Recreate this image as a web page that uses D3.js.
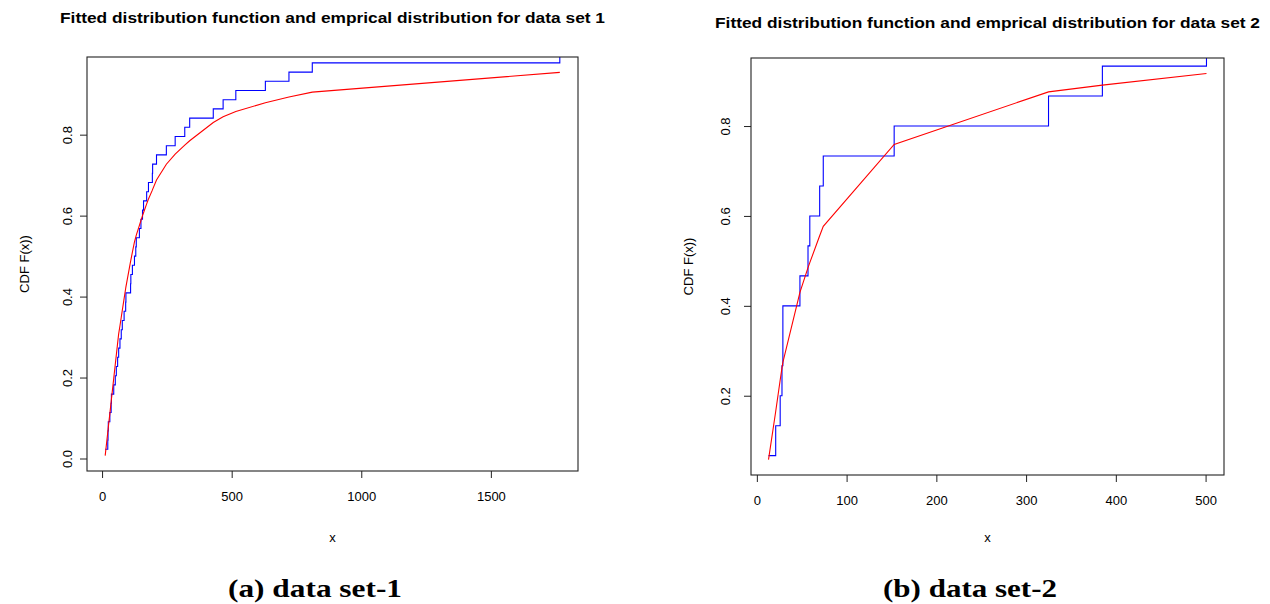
<!DOCTYPE html>
<html>
<head>
<meta charset="utf-8">
<script src="https://cdn.jsdelivr.net/npm/d3@7"></script>
<style>
	body { margin: 0; background: #fff; }
	text { font-family: "Liberation Sans", Arial, sans-serif; fill: #000; }
	.caption { font-family: "Liberation Serif", "DejaVu Serif", serif; font-weight: bold; }
</style>
</head>
<body>
<svg width="1270" height="604"></svg>
<script>

// data set 1: sorted sample (44 obs) and fitted cdf at each obs
let set1X = [12, 22, 23, 24, 30, 35, 36, 45, 51, 55, 60, 64, 69, 74, 78, 85, 91, 92, 110, 111,
	117, 125, 130, 132, 144, 150, 156, 160, 172, 179, 194, 195, 210, 248, 282, 319, 338, 429,
	467, 516, 630, 721, 811, 1766];
let set1Fit = [0.007, 0.065, 0.071, 0.077, 0.111, 0.140, 0.146, 0.198, 0.233, 0.256, 0.285, 0.308,
	0.328, 0.349, 0.366, 0.395, 0.420, 0.424, 0.487, 0.490, 0.510, 0.535, 0.547, 0.552, 0.576,
	0.588, 0.600, 0.607, 0.629, 0.641, 0.663, 0.665, 0.688, 0.727, 0.752, 0.774, 0.785, 0.830,
	0.844, 0.857, 0.879, 0.893, 0.905, 0.954];

// data set 2: sorted sample (15 obs) and fitted cdf
let set2X = [13, 21, 26, 28, 29, 29, 48, 57, 59, 70, 74, 153, 325, 385, 501];
let set2Fit = [0.058, 0.165, 0.235, 0.262, 0.274, 0.274, 0.430, 0.485, 0.496, 0.556, 0.577,
	0.759, 0.876, 0.891, 0.917];

let xTicks1 = [0, 500, 1000, 1500];
let yTicks1 = [0, 0.2, 0.4, 0.6, 0.8];
let xTicks2 = [0, 100, 200, 300, 400, 500];
let yTicks2 = [0.2, 0.4, 0.6, 0.8];

let titles = ["Fitted distribution function and emprical distribution for data set 1",
	"Fitted distribution function and emprical distribution for data set 2"];
let captions = ["(a) data set-1", "(b) data set-2"];

let svg = d3.select("svg");

// R style range: data extent padded 4% each side
function padded (ext) {
	let w = ext[1] - ext[0];
	return [ext[0] - 0.04 * w, ext[1] + 0.04 * w];
}

//empirical cdf points i/n
function ecdf (xs) {
	return xs.map((x, i) => ({x: x, y: (i + 1) / xs.length}));
}

function drawPanel (cfg) {
	let box = cfg.box;
	let x = d3.scaleLinear().domain(padded(d3.extent(cfg.xs))).range([box.left, box.right]);
	let y = d3.scaleLinear().domain(padded(d3.extent(cfg.fit))).range([box.bottom, box.top]);

	let g = svg.append("g");

	g.append("clipPath")
		.attr("id", "clip" + cfg.id)
		.append("rect")
		.attr("x", box.left)
		.attr("y", box.top)
		.attr("width", box.right - box.left)
		.attr("height", box.bottom - box.top);

	let plot = g.append("g").attr("clip-path", "url(#clip" + cfg.id + ")");

	let step = d3.line()
		.x(d => x(d.x))
		.y(d => y(d.y))
		.curve(d3.curveStepAfter);

	plot.append("path")
		.datum(ecdf(cfg.xs))
		.attr("d", step)
		.attr("fill", "none")
		.attr("stroke", "#0000ff")
		.attr("stroke-width", 1.1);

	plot.append("path")
		.datum(cfg.xs.map((v, i) => ({x: v, y: cfg.fit[i]})))
		.attr("d", d3.line().x(d => x(d.x)).y(d => y(d.y)))
		.attr("fill", "none")
		.attr("stroke", "#ff0000")
		.attr("stroke-width", 1.1);

	g.append("rect")
		.attr("x", box.left)
		.attr("y", box.top)
		.attr("width", box.right - box.left)
		.attr("height", box.bottom - box.top)
		.attr("fill", "none")
		.attr("stroke", "#222")
		.attr("stroke-width", 1.1);

	// axes
	let xAxis = g.append("g")
		.attr("transform", "translate(0," + box.bottom + ")")
		.call(d3.axisBottom(x).tickValues(cfg.xTicks).tickSize(7).tickSizeOuter(0).tickPadding(14).tickFormat(d3.format("d")));
	xAxis.select(".domain").remove();
	xAxis.selectAll("line").attr("stroke", "#222");
	xAxis.selectAll("text").attr("font-size", 13).attr("fill", "#000");

	let yAxis = g.append("g")
		.attr("transform", "translate(" + box.left + ",0)")
		.call(d3.axisLeft(y).tickValues(cfg.yTicks).tickSize(7).tickSizeOuter(0).tickFormat(d3.format(".1f")));
	yAxis.select(".domain").remove();
	yAxis.selectAll("line").attr("stroke", "#222");
	yAxis.selectAll("text")
		.attr("font-size", 13)
		.attr("fill", "#000")
		.attr("text-anchor", "middle")
		.attr("dy", "0.35em")
		.attr("transform", "translate(" + (-cfg.yLabOff) + ",0) rotate(-90)")
		.attr("x", 0);

	let cx = (box.left + box.right) / 2;
	let cy = (box.top + box.bottom) / 2;

	g.append("text")
		.attr("x", cx)
		.attr("y", cfg.titleY)
		.attr("text-anchor", "middle")
		.attr("dy", "0.35em")
		.attr("font-weight", "bold")
		.attr("font-size", 15)
		.attr("textLength", 545)
		.attr("lengthAdjust", "spacingAndGlyphs")
		.text(cfg.title);

	g.append("text")
		.attr("x", cx)
		.attr("y", 537)
		.attr("text-anchor", "middle")
		.attr("dy", "0.35em")
		.attr("font-size", 13)
		.text("x");

	g.append("text")
		.attr("transform", "translate(" + (box.left - cfg.yTitleOff) + "," + cy + ") rotate(-90)")
		.attr("text-anchor", "middle")
		.attr("dy", "0.35em")
		.attr("font-size", 13)
		.text("CDF F(x))");

	g.append("text")
		.attr("class", "caption")
		.attr("x", cfg.capX)
		.attr("y", 588)
		.attr("text-anchor", "middle")
		.attr("dy", "0.35em")
		.attr("font-size", 25)
		.attr("textLength", 174)
		.attr("lengthAdjust", "spacingAndGlyphs")
		.text(cfg.caption);
}

drawPanel({id: 1, xs: set1X, fit: set1Fit, xTicks: xTicks1, yTicks: yTicks1,
	box: {left: 87, right: 578, top: 57, bottom: 471},
	title: titles[0], titleY: 18, caption: captions[0], capX: 315, yLabOff: 20, yTitleOff: 63});

drawPanel({id: 2, xs: set2X, fit: set2Fit, xTicks: xTicks2, yTicks: yTicks2,
	box: {left: 751, right: 1224, top: 58, bottom: 475},
	title: titles[1], titleY: 23, caption: captions[1], capX: 970, yLabOff: 26, yTitleOff: 63});

</script>
</body>
</html>
